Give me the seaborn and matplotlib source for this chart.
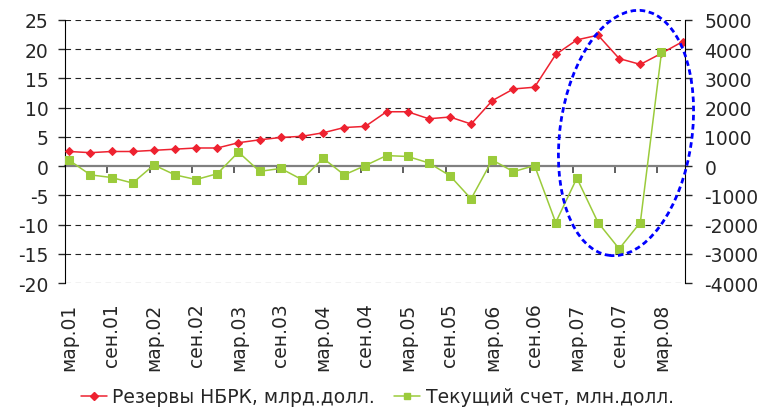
import numpy as np
import seaborn as sns
import matplotlib.pyplot as plt
from matplotlib.patches import Ellipse
from matplotlib.lines import Line2D

# quarterly data, mar.01 .. jun.08
quarters = ["мар.01", "июн.01", "сен.01", "дек.01",
            "мар.02", "июн.02", "сен.02", "дек.02",
            "мар.03", "июн.03", "сен.03", "дек.03",
            "мар.04", "июн.04", "сен.04", "дек.04",
            "мар.05", "июн.05", "сен.05", "дек.05",
            "мар.06", "июн.06", "сен.06", "дек.06",
            "мар.07", "июн.07", "сен.07", "дек.07",
            "мар.08", "июн.08"]

# reserves of the National Bank, bn USD (left axis)
reserves = [2.5, 2.3, 2.5, 2.5, 2.7, 2.9, 3.1, 3.1, 4.0, 4.5,
            4.9, 5.1, 5.7, 6.6, 6.8, 9.3, 9.3, 8.1, 8.4, 7.2,
            11.2, 13.2, 13.5, 19.1, 21.6, 22.4, 18.4, 17.4, 19.3, 21.3]

# current account, mn USD (right axis)
current = [200, -300, -390, -580, 40, -300, -460, -260, 480, -180,
           -80, -460, 270, -300, 20, 360, 330, 110, -330, -1120,
           210, -190, 20, -1930, -410, -1930, -2830, -1930, 3890, np.nan]

left_ticks = [-20, -15, -10, -5, 0, 5, 10, 15, 20, 25]
right_ticks = [-4000, -3000, -2000, -1000, 0, 1000, 2000, 3000, 4000, 5000]

red = "#EE2230"
green = "#9BCB3B"

sns.set_style("white")
plt.rcParams["font.family"] = ["DejaVu Sans"]
fs = 13.5

fig = plt.figure(figsize=(7.62, 4.10), dpi=100)
ax = fig.add_axes([0.0853, 0.3073, 0.8136, 0.6415])
ax2 = ax.twinx()

x = np.arange(len(quarters))

sns.lineplot(x=x, y=reserves, ax=ax, color=red, marker="D", markersize=4,
             markeredgecolor=red, linewidth=1.1, zorder=3)
sns.lineplot(x=x, y=current, ax=ax2, color=green, marker="s", markersize=5.5,
             markeredgecolor=green, linewidth=1.1, zorder=3)

ax.set_xlim(-0.2, 29.11)
ax.set_ylim(-20, 25)
ax2.set_ylim(-4000, 5000)

# dashed gridlines
for y in left_ticks:
    if y != 0:
        ax.axhline(y, color="#222222", linestyle=(0, (5, 4)), linewidth=0.8, zorder=0)

for a in (ax, ax2):
    for s in ("top", "bottom"):
        a.spines[s].set_visible(False)
ax.spines["left"].set_color("black")
ax2.spines["right"].set_color("black")
ax2.spines["left"].set_visible(False)
ax.spines["right"].set_visible(False)

ax.set_yticks(left_ticks, [str(v) for v in left_ticks])
ax2.set_yticks(right_ticks, [str(v) for v in right_ticks])
ax.tick_params(axis="y", direction="out", length=5, width=1, pad=7,
               labelsize=fs, left=True)
ax2.tick_params(axis="y", direction="out", length=5, width=1, pad=9,
                labelsize=fs, right=True)

# category labels at bottom, every other quarter
ax.set_xticks(x[::2], quarters[::2], rotation=90)
ax.tick_params(axis="x", length=0, pad=14, labelsize=fs, bottom=True)
ax.set_xlabel("")
ax.set_ylabel("")
ax2.set_ylabel("")

# zero line with tick marks
zero = ax.secondary_xaxis(20 / 45)
zero.set_xticks(np.arange(1.8, 29, 2), [""] * 14)
zero.tick_params(axis="x", direction="out", length=5, width=1.2, color="#444444")
zero.spines["bottom"].set_color("#808080")
zero.spines["bottom"].set_linewidth(1.6)

# highlight ellipse
ell = Ellipse((6.26, 2.76), 1.32, 2.47, angle=-8, transform=fig.dpi_scale_trans,
              fill=False, edgecolor="#0000FF", linewidth=2, linestyle=(0, (2, 1.3)),
              clip_on=False)
fig.patches.append(ell)

handles = [Line2D([], [], color=red, marker="D", markersize=4, linewidth=1.1),
           Line2D([], [], color=green, marker="s", markersize=4.5, linewidth=1.1)]
fig.legend(handles, ["Резервы НБРК, млрд.долл.", "Текущий счет, млн.долл."],
           loc="center", bbox_to_anchor=(0.495, 0.03), ncol=2, frameon=False,
           fontsize=fs, handlelength=1.4, handletextpad=0.3, columnspacing=1.0)

fig.savefig("out.png", dpi=100)
